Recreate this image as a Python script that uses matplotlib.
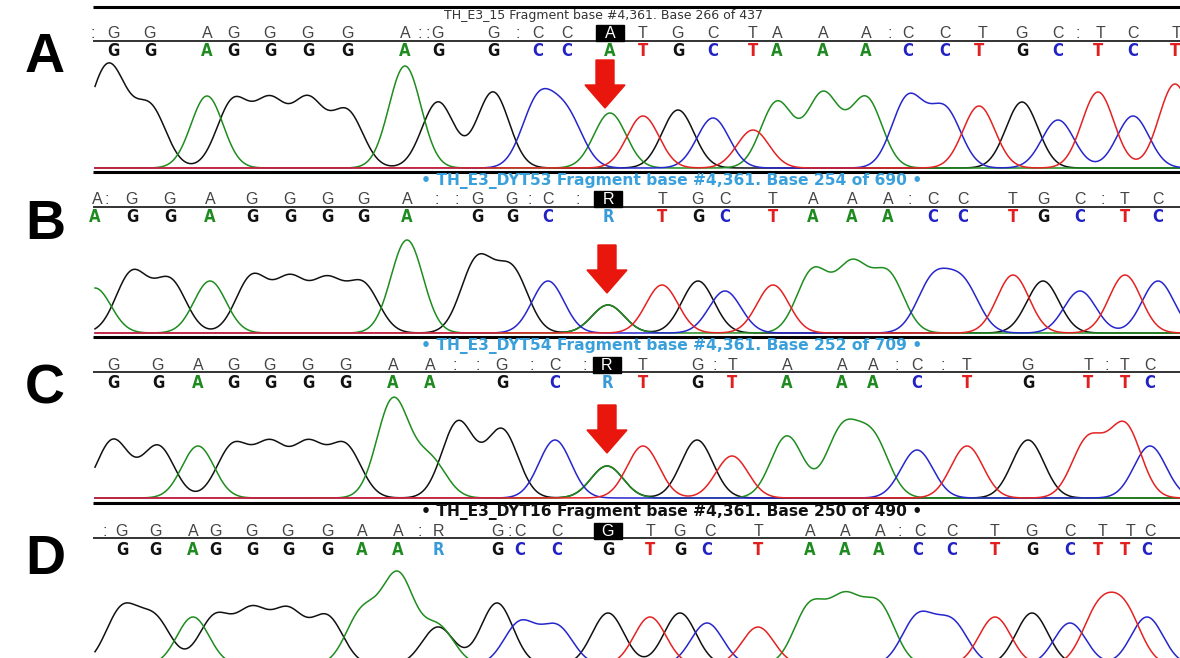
import numpy as np
import matplotlib.pyplot as plt
from matplotlib.patches import Rectangle, FancyArrow

# ---- data (x in pixels of the 1180 px wide image) ----
panel_labels = ["A", "B", "C", "D"]
headers = [
    "TH_E3_15 Fragment base #4,361. Base 266 of 437",
    "\u2022 TH_E3_DYT53 Fragment base #4,361. Base 254 of 690 \u2022",
    "\u2022 TH_E3_DYT54 Fragment base #4,361. Base 252 of 709 \u2022",
    "\u2022 TH_E3_DYT16 Fragment base #4,361. Base 250 of 490 \u2022",
]

# reference row (letters and colons)
ref_a = [":", "G", "G", "A", "G", "G", "G", "G", "A", ":", ":", "G", "G", ":", "C", "C", "A", "T", "G", "C",
         "T", "A", "A", "A", ":", "C", "C", "T", "G", "C", ":", "T", "C", "T"]
ref_a_x = [93, 113, 150, 207, 233, 270, 308, 347, 405, 420, 428, 438, 493, 518, 538, 567, 610, 643, 678, 713,
           753, 777, 823, 866, 890, 908, 945, 982, 1022, 1058, 1078, 1100, 1133, 1177]
ref_b = ["A", ":", "G", "G", "A", "G", "G", "G", "G", "A", ":", ":", "G", "G", ":", "C", ":", "R", "T", "G",
         "C", "T", "A", "A", "A", ":", "C", "C", "T", "G", "C", ":", "T", "C"]
ref_b_x = [97, 107, 132, 170, 210, 252, 290, 327, 363, 407, 437, 457, 477, 512, 530, 548, 578, 608, 662, 698,
           725, 773, 813, 852, 888, 910, 933, 963, 1013, 1043, 1080, 1103, 1125, 1158]
ref_c = ["G", "G", "A", "G", "G", "G", "G", "A", "A", ":", ":", "G", ":", "C", ":", "R", "T", "G", ":", "T",
         "A", "A", "A", ":", "C", ":", "T", "G", "T", ":", "T", "C"]
ref_c_x = [113, 158, 198, 233, 270, 308, 345, 393, 430, 455, 478, 502, 532, 555, 585, 607, 643, 697, 715, 732,
           787, 842, 873, 897, 917, 943, 967, 1028, 1088, 1107, 1125, 1150]
ref_d = [":", "G", "G", "A", "G", "G", "G", "G", "A", "A", ":", "R", "G", ":", "C", "C", "G", "T", "G", "C",
         "T", "A", "A", "A", ":", "C", "C", "T", "G", "C", "T", "T", "C"]
ref_d_x = [105, 122, 155, 193, 215, 252, 288, 327, 362, 398, 420, 438, 498, 510, 520, 557, 608, 650, 680, 710,
           758, 810, 845, 880, 900, 920, 952, 995, 1032, 1070, 1102, 1130, 1150]

# base calls and peak heights (px above baseline)
calls_a = "GGAGGGGAGGCCATGCTAAACCTGCTCT"
calls_a_x = [113, 150, 207, 233, 270, 308, 347, 405, 438, 493, 538, 567, 610, 643, 678, 713, 753, 777, 823,
             866, 908, 945, 979, 1022, 1058, 1098, 1133, 1175]
peaks_a = [78, 60, 72, 66, 64, 66, 56, 102, 66, 76, 66, 50, 55, 52, 58, 50, 38, 66, 74, 70, 70, 58, 62, 66,
           48, 76, 52, 84]

calls_b = "AGGAGGGGAGGCRTGCTAAACCTGCTC"
calls_b_x = [95, 132, 170, 210, 252, 290, 327, 363, 407, 477, 512, 548, 608, 662, 698, 725, 773, 813, 852, 888,
             933, 963, 1013, 1043, 1080, 1125, 1158]
peaks_b = [45, 60, 52, 52, 56, 52, 50, 48, 93, 72, 62, 52, 28, 48, 52, 42, 48, 62, 66, 58, 52, 48, 58, 52,
           42, 58, 52]

calls_c = "GGAGGGGAAGCRTGTAAACTGTTC"
calls_c_x = [113, 158, 198, 233, 270, 308, 345, 393, 430, 502, 555, 607, 643, 697, 732, 787, 842, 873, 917,
             967, 1028, 1088, 1125, 1150]
peaks_c = [58, 52, 52, 52, 52, 52, 52, 98, 38, 68, 58, 32, 52, 58, 42, 62, 66, 58, 48, 52, 58, 58, 72, 52]

calls_d = "GGAGGGGAARGCCGTGCTAAACCTGCTTC"
calls_d_x = [122, 155, 193, 215, 252, 288, 327, 362, 398, 438, 497, 520, 557, 608, 650, 680, 707, 758, 810,
             845, 879, 918, 952, 995, 1032, 1070, 1098, 1125, 1147]
peaks_d = [55, 45, 48, 48, 52, 52, 48, 52, 88, 38, 62, 42, 38, 52, 48, 52, 42, 38, 58, 62, 58, 48, 42, 48,
           52, 42, 52, 52, 48]

# peaks without a base call (channel, x, height)
extra_a = [("G", 95, 40)]
extra_b = []
extra_c = [("G", 458, 76)]
extra_d = []

highlight_x = [610, 608, 607, 608]
arrow_x = [605, 607, 607]

# ---- layout (pixel rows of each panel) ----
top_line_y = [7, 172, 337, 503]
header_y = [15, 181, 346, 512]
ref_y = [33, 199, 365, 531]
sep_y = [41, 207, 372, 538]
call_y = [51, 217, 383, 550]
base_y = [168, 333, 498, 665]
label_y = [58, 225, 390, 560]
arrow_top = [60, 245, 405]

trace_col = {"G": "#111111", "A": "#1f8c1f", "C": "#2626cc", "T": "#e42222"}
call_col = {"G": "#111111", "A": "#1f8a1f", "C": "#2222c4", "T": "#e21f1f", "R": "#3a9ad8"}
header_col = ["#333333", "#3aa0dc", "#3aa0dc", "#111111"]

refs = [(ref_a, ref_a_x), (ref_b, ref_b_x), (ref_c, ref_c_x), (ref_d, ref_d_x)]
calls = [(calls_a, calls_a_x, peaks_a, extra_a), (calls_b, calls_b_x, peaks_b, extra_b),
         (calls_c, calls_c_x, peaks_c, extra_c), (calls_d, calls_d_x, peaks_d, extra_d)]

fig = plt.figure(figsize=(11.8, 6.58), dpi=100)
ax = fig.add_axes([0, 0, 1, 1])
ax.set_xlim(0, 1180)
ax.set_ylim(658, 0)
ax.axis("off")

x = np.linspace(95, 1180, 3000)
sigma = 16.0

for i in range(4):
    # frame lines
    ax.plot([93, 1180], [top_line_y[i]] * 2, color="black", lw=2.2, solid_capstyle="butt")
    ax.plot([93, 1180], [sep_y[i]] * 2, color="#333333", lw=1.4, solid_capstyle="butt")

    # header
    if i == 0:
        ax.text(603, header_y[i], headers[i], ha="center", va="center", fontsize=9,
                family="DejaVu Sans", color=header_col[i])
    else:
        ax.text(672, header_y[i], headers[i], ha="center", va="center", fontsize=11.2,
                family="DejaVu Sans", weight="bold", color=header_col[i])

    # highlighted reference base
    hx = highlight_x[i]
    ax.add_patch(Rectangle((hx - 14, ref_y[i] - 8), 28, 16, color="black", zorder=2))

    letters, lx = refs[i]
    for s, xx in zip(letters, lx):
        c = "white" if abs(xx - hx) < 3 else "#444444"
        ax.text(xx, ref_y[i], s, ha="center", va="center", fontsize=11.5,
                family="Liberation Sans", color=c, zorder=3)

    seq, cx, ph, extra = calls[i]
    for s, xx in zip(seq, cx):
        ax.text(xx, call_y[i], s, ha="center", va="center", fontsize=12,
                family="DejaVu Sans", weight="bold", stretch="condensed",
                color=call_col[s], zorder=3)

    # chromatogram traces
    signal = {k: np.zeros_like(x) for k in "GACT"}
    for s, xx, h in zip(seq, cx, ph):
        chans = ["A", "G"] if s == "R" else [s]
        for ch in chans:
            signal[ch] += h * np.exp(-(x - xx) ** 2 / (2 * sigma ** 2))
    for ch, xx, h in extra:
        signal[ch] += h * np.exp(-(x - xx) ** 2 / (2 * sigma ** 2))
    for ch in ["G", "A", "C", "T"]:
        ax.plot(x, base_y[i] - signal[ch], color=trace_col[ch], lw=1.1, zorder=1)

    # panel label
    ax.text(45, label_y[i], panel_labels[i], ha="center", va="center", fontsize=40,
            family="Liberation Sans", weight="bold", color="black")

# red arrows above the variant
for axx, at in zip(arrow_x, arrow_top):
    ax.add_patch(FancyArrow(axx, at, 0, 48, width=18, head_width=40, head_length=23,
                            length_includes_head=True, color="#e8160c", zorder=4))

fig.savefig("out.png", dpi=100)
